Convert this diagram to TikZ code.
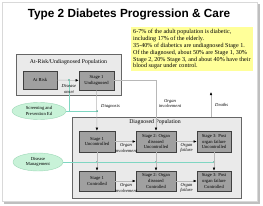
\documentclass[tikz,border=0pt]{standalone}
\usepackage{fontspec}
\setmainfont{Liberation Serif}
\newfontfamily\titlefont{Liberation Sans}
\usetikzlibrary{arrows.meta,shapes.geometric,calc}
\definecolor{boxfill}{HTML}{A0A0A0}
\definecolor{outerfill}{HTML}{EAEAEA}
\definecolor{notefill}{HTML}{FFFF99}
\definecolor{ellfill}{HTML}{C8F2D8}
\definecolor{ellline}{HTML}{9ED8B8}
\definecolor{tealc}{HTML}{7FD6C2}
\definecolor{dotc}{HTML}{20A080}
\definecolor{conn}{HTML}{B8B8B8}
\tikzset{
  x=1pt,y=-1pt,
  outerbox/.style={draw=gray!80!black,fill=outerfill,line width=0.6pt},
  stagebox/.style={draw=black!75,fill=boxfill,line width=0.6pt,align=center,
    font=\fontsize{4.6}{5.6}\selectfont,inner sep=0pt},
  ellbox/.style={ellipse,draw=ellline,fill=ellfill,align=center,
    font=\fontsize{4.6}{5.6}\selectfont,inner sep=0pt},
  lbl/.style={font=\fontsize{4.6}{5.6}\selectfont\itshape,align=center,inner sep=0pt},
  flow/.style={draw=conn,line width=0.5pt,-{Latex[length=3pt,width=2.6pt,color=black]}},
  ctrl/.style={draw=tealc,line width=0.5pt},
  dot/.style={circle,fill=dotc,inner sep=0pt,minimum size=2pt},
}
\begin{document}
\begin{tikzpicture}
\useasboundingbox (0,0) rectangle (263,206);
\fill[white] (0,0) rectangle (263,206);
% slide shadow and page
\fill[black!25] (4,4) rectangle (260,204);
\fill[white,draw=black!15,line width=0.3pt] (2,2) rectangle (257,201);
% title
\node (title) at (129,14) {\titlefont\bfseries\fontsize{11.8}{13}\selectfont Type 2 Diabetes Progression \& Care};
% note
\fill[notefill] (131,27) rectangle (253,71);
\node[inner sep=0pt,anchor=north west,align=left,font=\fontsize{6.1}{6.9}\selectfont] (note) at (133,29)
  {6-7\% of the adult population is diabetic,\\
   including 17\% of the elderly.\\
   35-40\% of diabetics are undiagnosed Stage 1.\\
   Of the diagnosed, about 50\% are Stage 1, 30\%\\
   Stage 2, 20\% Stage 3, and about 40\% have their\\
   blood sugar under control.};
% outer boxes
\draw[outerbox] (16,54) rectangle (121,95);
\node[font=\fontsize{5.8}{7}\selectfont,inner sep=0pt] (atriskpop) at (68.5,62) {At-Risk/Undiagnosed Population};
\draw[outerbox] (72,117) rectangle (241,198);
\node[font=\fontsize{5.8}{7}\selectfont,inner sep=0pt] (diagpop) at (155,122.5) {Diagnosed Population};
\coordinate (diagtop) at (211,117);
% stage boxes
\node[stagebox,minimum width=34pt,minimum height=18pt] (atrisk) at (40,80) {At Risk};
\node[stagebox,minimum width=35pt,minimum height=19pt] (s1u) at (96.5,80.5) {Stage 1\\Undiagnosed};
\node[stagebox,minimum width=36pt,minimum height=21pt] (s1unc) at (97,141.5) {Stage 1\\Uncontrolled};
\node[stagebox,minimum width=40pt,minimum height=21pt] (s2unc) at (156,141.5) {Stage 2: Organ\\diseased\\Uncontrolled};
\node[stagebox,minimum width=34pt,minimum height=21pt] (s3unc) at (214,141.5) {Stage 3: Post\\organ failure\\Uncontrolled};
\node[stagebox,minimum width=36pt,minimum height=20pt] (s1c) at (97,181) {Stage 1\\Controlled};
\node[stagebox,minimum width=40pt,minimum height=20pt] (s2c) at (156,181) {Stage 2: Organ\\diseased\\Controlled};
\node[stagebox,minimum width=34pt,minimum height=20pt] (s3c) at (214,181) {Stage 3: Post\\organ failure\\Controlled};
% ellipses
\node[ellbox,minimum width=54pt,minimum height=17pt] (screen) at (39,111) {Screening and\\Prevention Ed};
\node[ellbox,minimum width=50pt,minimum height=18pt] (mgmt) at (38,162) {Disease\\Management};
% dots
\node[dot] (d1) at (69,80) {};
\node[dot] (d2) at (97,111) {};
\node[dot] (d3) at (97,162) {};
\node[dot] (d4) at (156,162) {};
\node[dot] (d5) at (214,162) {};
% control lines
\draw[ctrl] (screen.east) -- (d2);
\draw[ctrl] (d1) -- (d1 |- screen.east);
\draw[ctrl] (mgmt.east) -- (d5);
% flows
\draw[flow] (atrisk) -- (s1u);
\draw[flow] (s1u) -- (s1unc);
\draw[flow] (s1unc) -- (s2unc);
\draw[flow] (s2unc) -- (s3unc);
\draw[flow] (s1c) -- (s2c);
\draw[flow] (s2c) -- (s3c);
\draw[flow] (s1unc) -- (s1c);
\draw[flow] (s2unc) -- (s2c);
\draw[flow] (s3unc) -- (s3c);
\draw[flow] (s1u.east) -| (s2unc.north);
\coordinate (deathend) at (211,92);
\draw[flow] (diagtop) -- (deathend);
% labels
\node[lbl] (onset) at (69,89) {Disease\\onset};
\node[lbl,anchor=west] (diagnosis) at (101,106) {Diagnosis};
\node[lbl] (orginv) at (170,103.5) {Organ\\involvement};
\node[lbl,anchor=west] (deaths) at (215,105) {Deaths};
\node[lbl] (oi1) at (126,148) {Organ\\involvement};
\node[lbl] (of1) at (186.5,148) {Organ\\failure};
\node[lbl] (oi2) at (126,188) {Organ\\involvement};
\node[lbl] (of2) at (186.5,188) {Organ\\failure};
\end{tikzpicture}
\end{document}
